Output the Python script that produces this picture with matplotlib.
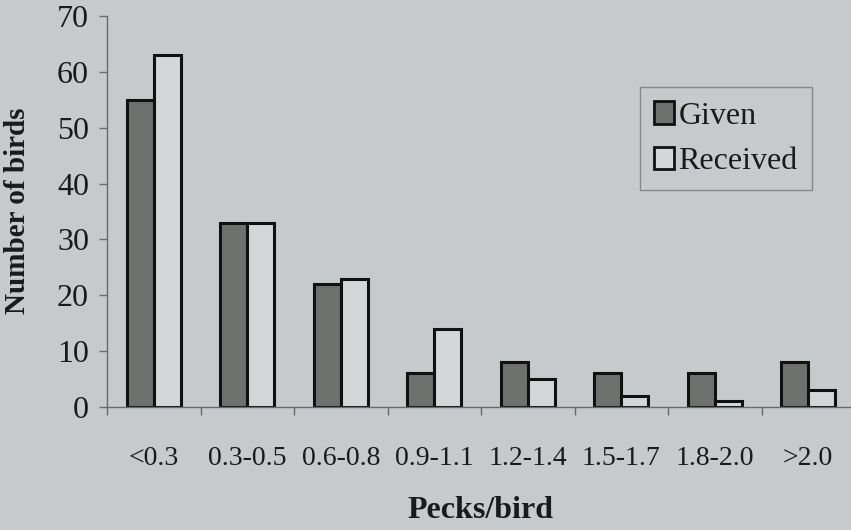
# Pecks given / received per bird — grouped bar chart
import numpy as np
import matplotlib
matplotlib.use("Agg")
import matplotlib.pyplot as plt
from matplotlib.patches import Patch

categorias = ["<0.3", "0.3-0.5", "0.6-0.8", "0.9-1.1", "1.2-1.4", "1.5-1.7", "1.8-2.0", ">2.0"]
given = [55, 33, 22, 6, 8, 6, 6, 8]
received = [63, 33, 23, 14, 5, 2, 1, 3]

plt.rcParams["font.family"] = ["Liberation Serif", "DejaVu Serif"]

fundo = "#c6cacc"
cor_given = "#6f716f"
cor_received = "#d3d7d8"
cor_eixo = "#6a6a6a"
cor_texto = "#1a1a1a"

fig = plt.figure(figsize=(8.51, 5.30), dpi=100)
fig.patch.set_facecolor(fundo)
ax = fig.add_axes([107 / 851, 1 - 407 / 530, 748 / 851, 391 / 530])
ax.set_facecolor(fundo)

x = np.arange(len(categorias))
w = 0.29
ax.bar(x - w / 2, given, w, color=cor_given, edgecolor="#111111", linewidth=2.2, label="Given")
ax.bar(x + w / 2, received, w, color=cor_received, edgecolor="#111111", linewidth=2.2, label="Received")

ax.set_xlim(-0.5, len(categorias) - 0.5)
ax.set_ylim(0, 70)
ax.set_yticks(range(0, 71, 10))
ax.tick_params(axis="y", labelsize=23, length=6, width=1, color=cor_eixo, pad=7,
               labelcolor=cor_texto)

# ticks do eixo x nas divisas entre categorias, rótulos no centro
ax.set_xticks(np.arange(-0.5, len(categorias), 1))
ax.set_xticklabels([])
ax.set_xticks(x, minor=True)
ax.set_xticklabels(categorias, minor=True)
ax.tick_params(axis="x", which="major", length=6, width=1, color=cor_eixo)
ax.tick_params(axis="x", which="minor", length=0, labelsize=20, pad=28,
               labelcolor=cor_texto)

for lado in ["top", "right"]:
    ax.spines[lado].set_visible(False)
for lado in ["left", "bottom"]:
    ax.spines[lado].set_color(cor_eixo)
    ax.spines[lado].set_linewidth(1)

fig.text(18 / 851, 1 - 211 / 530, "Number of birds", fontsize=21, fontweight="bold",
         rotation=90, ha="center", va="center", color=cor_texto)
fig.text(480 / 851, 1 - 510 / 530, "Pecks/bird", fontsize=23, fontweight="bold",
         ha="center", va="center", color=cor_texto)

handles = [Patch(facecolor=cor_given, edgecolor="#111111", linewidth=2),
           Patch(facecolor=cor_received, edgecolor="#111111", linewidth=2)]
leg = ax.legend(handles, ["Given", "Received"], loc="upper left",
                bbox_to_anchor=((640 - 107) / 748, (407 - 87) / 391),
                fontsize=23, frameon=True, fancybox=False, framealpha=1,
                handlelength=0.6, handleheight=0.7, handletextpad=0.15,
                labelspacing=0.5, borderpad=0.45, borderaxespad=0)
for t in leg.get_texts():
    t.set_color(cor_texto)
leg.get_frame().set_facecolor(fundo)
leg.get_frame().set_edgecolor("#888888")
leg.get_frame().set_linewidth(1)

fig.savefig("out.png", dpi=100, facecolor=fundo)
